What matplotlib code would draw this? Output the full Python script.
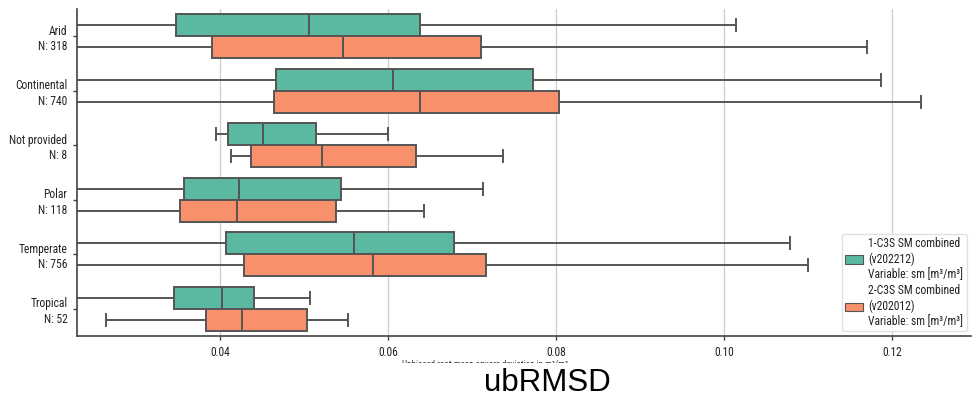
import matplotlib
matplotlib.use("Agg")
import matplotlib.pyplot as plt
from matplotlib.patches import Patch
from matplotlib.transforms import Bbox, TransformedBbox

# ---- data ----
categories = ["Arid", "Continental", "Not provided", "Polar", "Temperate", "Tropical"]
counts = [318, 740, 8, 118, 756, 52]
series = ["1-C3S SM combined\n(v202212)\nVariable: sm [m³/m³]",
          "2-C3S SM combined\n(v202012)\nVariable: sm [m³/m³]"]

# whislo, q1, median, q3, whishi
s1_whislo = [0.005, 0.005, 0.0396, 0.005, 0.005, 0.005]
s1_q1     = [0.0348, 0.0467, 0.0410, 0.0357, 0.0407, 0.0345]
s1_med    = [0.0506, 0.0606, 0.0451, 0.0423, 0.0560, 0.0402]
s1_q3     = [0.0638, 0.0773, 0.0515, 0.0544, 0.0679, 0.0441]
s1_whishi = [0.1014, 0.1187, 0.0600, 0.0713, 0.1079, 0.0507]

s2_whislo = [0.005, 0.005, 0.0413, 0.005, 0.005, 0.0265]
s2_q1     = [0.0391, 0.0465, 0.0437, 0.0353, 0.0429, 0.0383]
s2_med    = [0.0547, 0.0638, 0.0522, 0.0420, 0.0582, 0.0426]
s2_q3     = [0.0711, 0.0804, 0.0634, 0.0538, 0.0717, 0.0504]
s2_whishi = [0.1170, 0.1234, 0.0737, 0.0643, 0.1100, 0.0552]

xticks = [0.04, 0.06, 0.08, 0.10, 0.12]
xlabel = "Unbiased root-mean-square deviation in m³/m³"
bottom_title = "ubRMSD"

colors = ["#5ab9a0", "#f8906c"]
edge = "#555555"

FONT = ["Roboto Condensed", "DejaVu Sans"]

fig = plt.figure(figsize=(9.79, 3.97), dpi=100)
ax = fig.add_axes([77/979, 1 - 336/397, (971-77)/979, (336-9)/397])

def stats(lo, q1, med, q3, hi):
    return [dict(whislo=a, q1=b, med=c, q3=d, whishi=e, fliers=[])
            for a, b, c, d, e in zip(lo, q1, med, q3, hi)]

all_stats = [stats(s1_whislo, s1_q1, s1_med, s1_q3, s1_whishi),
             stats(s2_whislo, s2_q1, s2_med, s2_q3, s2_whishi)]
offsets = [-0.2, 0.2]
for st, off, col in zip(all_stats, offsets, colors):
    pos = [i + off for i in range(len(categories))]
    ax.bxp(st, positions=pos, widths=0.4, vert=False, patch_artist=True,
           showfliers=False, capwidths=0.22, manage_ticks=False,
           boxprops=dict(facecolor=col, edgecolor=edge, linewidth=1.4),
           medianprops=dict(color=edge, linewidth=1.4),
           whiskerprops=dict(color=edge, linewidth=1.4),
           capprops=dict(color=edge, linewidth=1.4))

ax.set_ylim(len(categories) - 0.5, -0.5)
ax.set_xlim(0.0230, 0.1294)
ax.set_yticks(range(len(categories)))
ax.set_yticklabels([f"{c}\nN: {n}" for c, n in zip(categories, counts)],
                   family=FONT, fontsize=8.3, color="#222222", ha="right",
                   linespacing=1.25)
ax.set_xticks(xticks)
ax.set_xticklabels([f"{t:.2f}" for t in xticks], family=FONT, fontsize=8.3,
                   color="#222222")
ax.tick_params(axis="both", length=3, width=1, color="#444444", pad=4)
ax.xaxis.grid(True, color="#cccccc", linewidth=0.9)
ax.set_axisbelow(True)
for s in ["top", "right"]:
    ax.spines[s].set_visible(False)
for s in ["left", "bottom"]:
    ax.spines[s].set_color("#444444")
    ax.spines[s].set_linewidth(1.2)

handles = [Patch(facecolor=c, edgecolor=edge, linewidth=0.8) for c in colors]
leg = ax.legend(handles, series, loc="lower right", bbox_to_anchor=(0.9955, 0.015),
                borderaxespad=0,
                prop=dict(family=FONT, size=8.4), handlelength=1.5,
                handleheight=0.75, handletextpad=0.5, labelspacing=0.3,
                borderpad=0.3, framealpha=0.9, edgecolor="#dddddd")
for t in leg.get_texts():
    t.set_color("#222222")

# x label, mostly hidden below its top edge as in the reference
xl = fig.text(402/979, 1 - 360/397, xlabel, family=FONT, fontsize=6.5,
              color="#333333", ha="left", va="top")
xl.set_clip_box(TransformedBbox(Bbox([[0, 1 - 363/397], [1, 1]]), fig.transFigure))
xl.set_clip_on(True)

fig.text(547/979, 1 - 391/397, bottom_title, family=["Liberation Sans", "DejaVu Sans"],
         fontsize=22.5, color="black", ha="center", va="baseline")

fig.savefig("out.png", dpi=100)
